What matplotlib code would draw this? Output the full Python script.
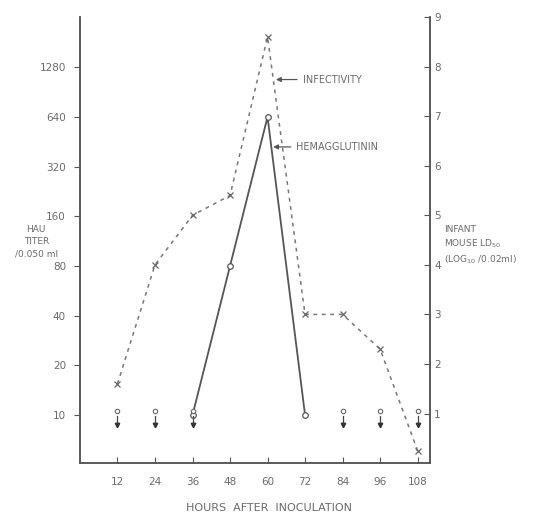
import matplotlib
matplotlib.use("Agg")
import matplotlib.pyplot as plt
import numpy as np

hours = [12, 24, 36, 48, 60, 72, 84, 96, 108]
infectivity = [1.6, 4.0, 5.0, 5.4, 8.6, 3.0, 3.0, 2.3, 0.25]
ha_hours = [36, 48, 60, 72]
ha_titer = [10, 80, 640, 10]
below_hours = [12, 24, 36, 84, 96, 108]
below_limit = [10, 10, 10, 10, 10, 10]
left_ticks = [10, 20, 40, 80, 160, 320, 640, 1280]
left_ticklabels = ["10", "20", "40", "80", "160", "320", "640", "1280"]
right_ticks = [1, 2, 3, 4, 5, 6, 7, 8, 9]
x_ticks = [12, 24, 36, 48, 60, 72, 84, 96, 108]

axc = "#555555"
txc = "#6a6a6a"

fig = plt.figure(figsize=(5.33, 5.18), dpi=100)
ax = fig.add_axes([0.150, 0.106, 0.657, 0.861])
ax2 = ax.twinx()

ax.set_yscale("log", base=2)
ax.set_ylim(5.12, 2577)
ax.set_xlim(0, 112)
ax2.set_ylim(0, 9)

for a in (ax, ax2):
    a.spines["top"].set_visible(False)
    for s in ["left", "right", "bottom"]:
        a.spines[s].set_color(axc)
        a.spines[s].set_linewidth(1.1)

ax.set_yticks(left_ticks)
ax.set_yticklabels(left_ticklabels)
ax.yaxis.set_minor_locator(matplotlib.ticker.NullLocator())
ax.tick_params(axis="y", direction="out", length=4, color=axc, labelcolor=txc, labelsize=7.5, pad=6)
ax.set_xticks(x_ticks)
ax.tick_params(axis="x", direction="in", length=4, color=axc, labelcolor=txc, labelsize=7.5, pad=10)
ax2.set_yticks(right_ticks)
ax2.tick_params(axis="y", direction="in", length=4, color=axc, labelcolor=txc, labelsize=7.5, pad=3)

# infectivity (right axis)
ax2.plot(hours, infectivity, linestyle=(0, (2.5, 3)), color="#777777", lw=1.1,
         marker="x", ms=5, mec="#666666", mew=0.9)

# hemagglutinin (left axis)
ax.plot(ha_hours, ha_titer, linestyle="-", color="#555555", lw=1.3,
        marker="o", ms=4, mfc="white", mec="#555555", mew=0.9)

# below-limit markers
ax.plot(below_hours, [v * 1.06 for v in below_limit], linestyle="none", marker="o", ms=3.2,
        mfc="white", mec="#666666", mew=0.8)
for h, v in zip(below_hours, below_limit):
    ax.plot([h, h], [v * 0.99, v * 0.87], color="#444444", lw=0.9)
ax.plot(below_hours, [v * 0.87 for v in below_limit], linestyle="none", marker="v", ms=3.2,
        color="#333333")

# annotations
ax2.annotate("INFECTIVITY", xy=(61.8, 7.74), xytext=(71.2, 7.74), color=txc, fontsize=7,
             va="center", ha="left",
             arrowprops=dict(arrowstyle="-|>", color="#555555", lw=0.9, mutation_scale=7))
ax2.annotate("HEMAGGLUTININ", xy=(60.9, 6.38), xytext=(69.2, 6.38), color=txc, fontsize=7,
             va="center", ha="left",
             arrowprops=dict(arrowstyle="-|>", color="#555555", lw=0.9, mutation_scale=7))

fig.text(0.068, 0.533, "HAU\nTITER\n/0.050 ml", color=txc, fontsize=6.5, ha="center", va="center",
         linespacing=1.45)
fig.text(0.833, 0.526, "INFANT\nMOUSE LD$_{50}$\n(LOG$_{10}$ /0.02ml)", color=txc, fontsize=6.5,
         ha="left", va="center", linespacing=1.4)
fig.text(0.505, 0.02, "HOURS  AFTER  INOCULATION", color=txc, fontsize=8, ha="center", va="center")

fig.savefig("out.png", dpi=100)
